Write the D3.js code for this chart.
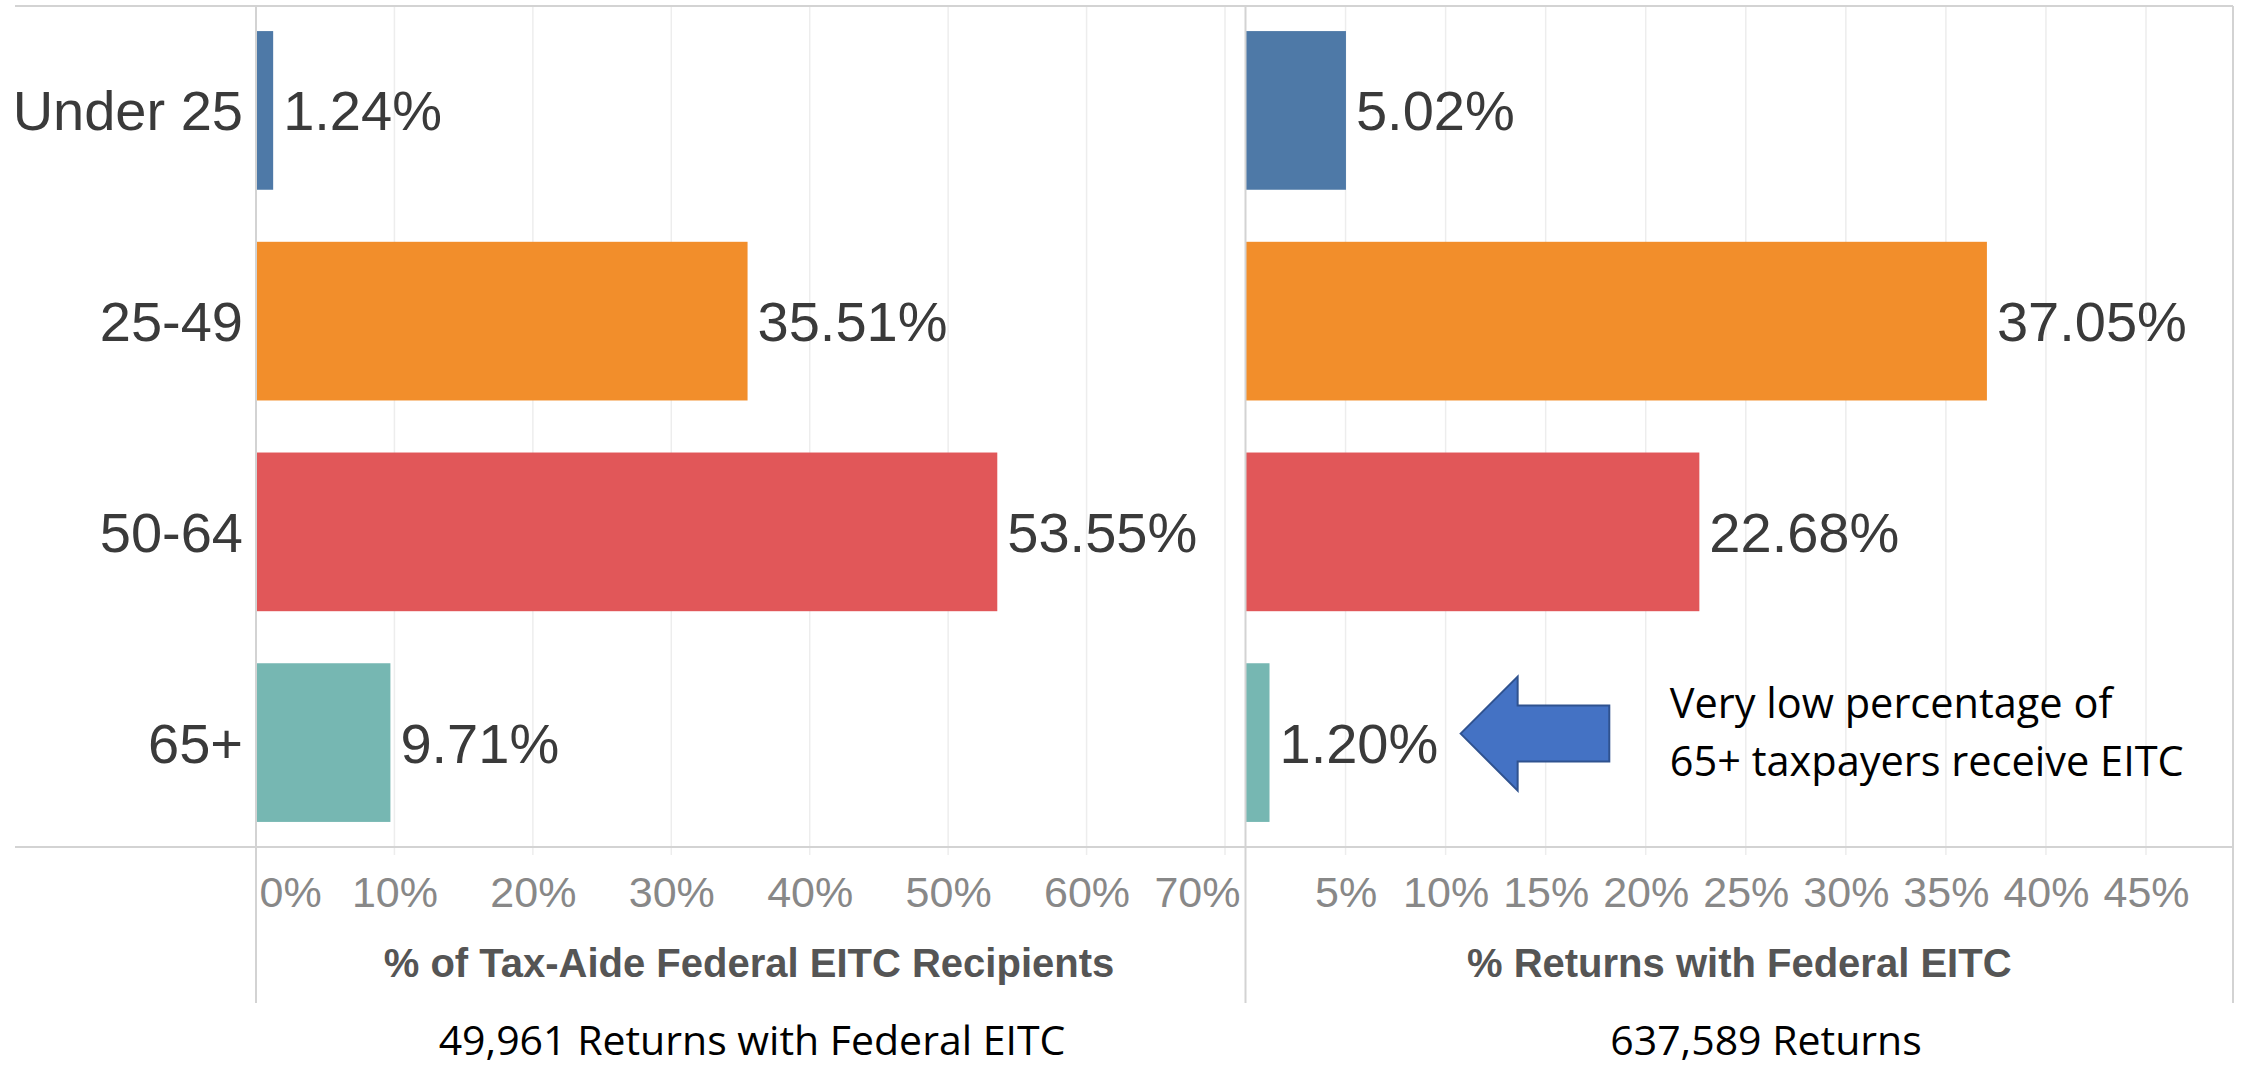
<!DOCTYPE html>
<html>
<head>
<meta charset="utf-8">
<script src="https://cdn.jsdelivr.net/npm/d3@7"></script>
<style>
  html, body { margin: 0; padding: 0; background: #ffffff; }
  svg { display: block; }
</style>
</head>
<body>
<script>
// ---- Data ----
const categories = ["Under 25", "25-49", "50-64", "65+"];
const recipientsPct = [1.24, 35.51, 53.55, 9.71];   // % of Tax-Aide Federal EITC Recipients
const returnsPct = [5.02, 37.05, 22.68, 1.20];      // % Returns with Federal EITC
const barColors = ["#4E79A7", "#F28E2B", "#E15759", "#76B7B2"];
const leftTicks = [0, 10, 20, 30, 40, 50, 60, 70];
const rightTicks = [5, 10, 15, 20, 25, 30, 35, 40, 45];
const leftTitle = "% of Tax-Aide Federal EITC Recipients";
const rightTitle = "% Returns with Federal EITC";
const leftFooter = "49,961 Returns with Federal EITC";
const rightFooter = "637,589 Returns";
const noteLines = ["Very low percentage of", "65+ taxpayers receive EITC"];

(function () {
// ---- Layout ----
const W = 2244, H = 1066;
const plotTop = 6, axisY = 847, bottomLineY = 1003, frameLeft = 15, frameRight = 2233;
const tableauFont = "'Liberation Sans', Arial, sans-serif";
const noteFont = "'Open Sans', 'Noto Sans', sans-serif";

const svg = d3.select("body").append("svg").attr("width", W).attr("height", H);
svg.append("rect").attr("width", W).attr("height", H).attr("fill", "#fff");

const xL = d3.scaleLinear().domain([0, 70]).range([256, 1225]);
const xR = d3.scaleLinear().domain([0, 45]).range([1245.5, 2146]);
const y = d3.scaleBand().domain(categories).range([plotTop, axisY]).paddingInner(0.247).paddingOuter(0.119);

const rows = categories.map((c, i) => ({ cat: c, left: recipientsPct[i], right: returnsPct[i], color: barColors[i] }));

// gridlines
function grid(scale, ticks) {
  svg.append("g").selectAll("line").data(ticks.filter(t => t !== 0)).join("line")
    .attr("x1", d => scale(d)).attr("x2", d => scale(d))
    .attr("y1", plotTop).attr("y2", axisY + 8)
    .attr("stroke", "#ededed").attr("stroke-width", 1.5);
}
grid(xL, leftTicks);
grid(xR, rightTicks);

// bars
svg.append("g").selectAll("rect").data(rows).join("rect")
  .attr("x", xL(0)).attr("y", d => y(d.cat))
  .attr("width", d => xL(d.left) - xL(0)).attr("height", y.bandwidth())
  .attr("fill", d => d.color);
svg.append("g").selectAll("rect").data(rows).join("rect")
  .attr("x", xR(0)).attr("y", d => y(d.cat))
  .attr("width", d => xR(d.right) - xR(0)).attr("height", y.bandwidth())
  .attr("fill", d => d.color);

// frame lines
const lineCol = "#d3d3d3";
svg.append("line").attr("x1", frameLeft).attr("x2", frameRight).attr("y1", plotTop).attr("y2", plotTop)
  .attr("stroke", lineCol).attr("stroke-width", 2);
svg.append("line").attr("x1", frameLeft).attr("x2", frameRight).attr("y1", axisY).attr("y2", axisY)
  .attr("stroke", lineCol).attr("stroke-width", 2);
[xL(0), xR(0), frameRight].forEach(x => {
  svg.append("line").attr("x1", x).attr("x2", x).attr("y1", plotTop).attr("y2", bottomLineY)
    .attr("stroke", lineCol).attr("stroke-width", 2);
});

// category labels
svg.append("g").selectAll("text").data(rows).join("text")
  .attr("x", xL(0) - 13).attr("y", d => y(d.cat) + y.bandwidth() / 2 + 20)
  .attr("text-anchor", "end").attr("font-family", tableauFont).attr("font-size", 56)
  .attr("fill", "#3a3a3a").text(d => d.cat);

// value labels
svg.append("g").selectAll("text").data(rows).join("text")
  .attr("x", d => xL(d.left) + 10).attr("y", d => y(d.cat) + y.bandwidth() / 2 + 20)
  .attr("font-family", tableauFont).attr("font-size", 56).attr("fill", "#3a3a3a")
  .text(d => d.left.toFixed(2) + "%");
svg.append("g").selectAll("text").data(rows).join("text")
  .attr("x", d => xR(d.right) + 10).attr("y", d => y(d.cat) + y.bandwidth() / 2 + 20)
  .attr("font-family", tableauFont).attr("font-size", 56).attr("fill", "#3a3a3a")
  .text(d => d.right.toFixed(2) + "%");

// axes tick labels
function axisLabels(scale, ticks, lo, hi) {
  const g = svg.append("g").attr("transform", `translate(0,${axisY})`)
    .call(d3.axisBottom(scale).tickValues(ticks).tickFormat(d => d + "%").tickSize(0));
  g.select(".domain").remove();
  g.selectAll("text").attr("font-family", tableauFont).attr("font-size", 43)
    .attr("fill", "#888").attr("dy", null).attr("y", 60);
  g.selectAll(".tick").each(function(d) {
    const t = d3.select(this).select("text");
    const w = t.node().getComputedTextLength();
    const cx = scale(d);
    const clamped = Math.max(lo + w / 2, Math.min(hi - w / 2, cx));
    t.attr("x", clamped - cx);
  });
}
axisLabels(xL, leftTicks, xL(0) + 3, 1240);
axisLabels(xR, rightTicks, xR(0) + 3, frameRight - 3);

// axis titles
svg.append("text").attr("x", 749).attr("y", 977).attr("text-anchor", "middle")
  .attr("font-family", tableauFont).attr("font-weight", "bold").attr("font-size", 40)
  .attr("fill", "#555").text(leftTitle);
svg.append("text").attr("x", (xR(0) + frameRight) / 2).attr("y", 977).attr("text-anchor", "middle")
  .attr("font-family", tableauFont).attr("font-weight", "bold").attr("font-size", 40)
  .attr("fill", "#555").text(rightTitle);

// footers
svg.append("text").attr("x", 752).attr("y", 1055).attr("text-anchor", "middle")
  .attr("font-family", noteFont).attr("font-size", 41).attr("fill", "#000").text(leftFooter);
svg.append("text").attr("x", 1766).attr("y", 1055).attr("text-anchor", "middle")
  .attr("font-family", noteFont).attr("font-size", 41).attr("fill", "#000").text(rightFooter);

// annotation arrow (positioned in right-panel scale units)
const cy = y("65+") + y.bandwidth() / 2 - 9;
const tipX = xR(10.75), headX = xR(13.6), tailX = xR(18.18);
const arrowPts = [
  [tipX, cy], [headX, cy - 57], [headX, cy - 28], [tailX, cy - 28],
  [tailX, cy + 28], [headX, cy + 28], [headX, cy + 57]
];
svg.append("polygon").attr("points", arrowPts.map(p => p.join(",")).join(" "))
  .attr("fill", "#4472C4").attr("stroke", "#2F528F").attr("stroke-width", 2);

svg.append("g").selectAll("text").data(noteLines).join("text")
  .attr("x", xR(21.2)).attr("y", (d, i) => 718 + i * 58)
  .attr("font-family", noteFont).attr("font-size", 41.5).attr("fill", "#000")
  .text(d => d);
})();
</script>
</body>
</html>
